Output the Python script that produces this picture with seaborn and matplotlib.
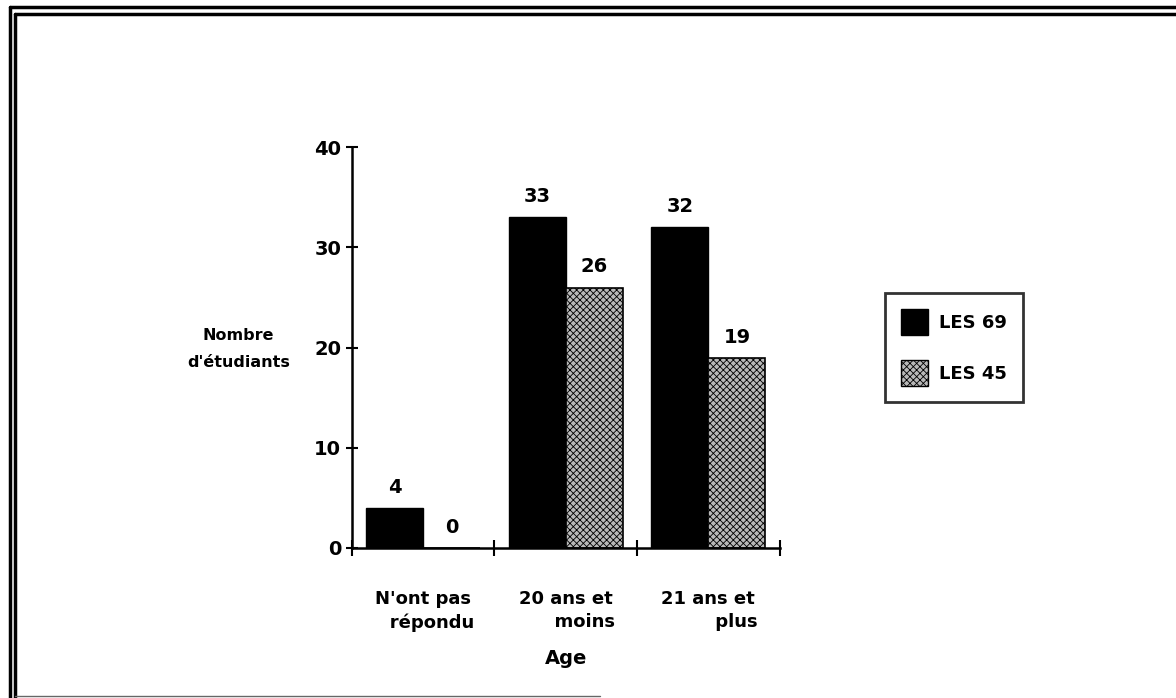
import matplotlib
matplotlib.use("Agg")
import matplotlib.pyplot as plt
from matplotlib.lines import Line2D
from matplotlib.patches import Patch
import seaborn as sns
import pandas as pd

categories = ["N'ont pas\n   répondu", "20 ans et\n      moins", "21 ans et\n         plus"]
series = ["LES 69", "LES 45"]
les69 = [4, 33, 32]
les45 = [0, 26, 19]
yticks = [0, 10, 20, 30, 40]

df = pd.DataFrame({
    "cat": categories * 2,
    "serie": [series[0]] * 3 + [series[1]] * 3,
    "val": les69 + les45,
})

sns.set_theme(style="white")
plt.rcParams['font.family'] = ['DejaVu Sans']
plt.rcParams['font.weight'] = 'bold'
plt.rcParams['hatch.linewidth'] = 0.6
for k in ['text.color', 'xtick.color', 'ytick.color', 'axes.labelcolor', 'axes.edgecolor']:
    plt.rcParams[k] = 'black'

fig = plt.figure(figsize=(11.76, 6.98), dpi=100)
ax = fig.add_axes([0.299, 0.215, 0.364, 0.574])

sns.barplot(data=df, x="cat", y="val", hue="serie", hue_order=series,
            palette={"LES 69": "black", "LES 45": "#b8b8b8"},
            width=0.8, saturation=1, ax=ax, legend=False)

for p in ax.containers[1]:
    p.set_hatch("xxxxx")
    p.set_edgecolor("black")
    p.set_linewidth(1.2)
for p in ax.containers[0]:
    p.set_edgecolor("black")

for cont in ax.containers:
    ax.bar_label(cont, labels=[str(int(v)) for v in cont.datavalues],
                 padding=8, fontsize=14, fontweight='bold', color='black')

ax.set_ylim(0, 40)
ax.set_xlim(-0.5, 2.5)
ax.set_yticks(yticks)
ax.set_yticklabels([str(t) for t in yticks], fontsize=14, fontweight='bold')
ax.set_xticks([-0.5, 0.5, 1.5, 2.5], minor=False)
ax.set_xticklabels([])
ax.set_xticks([0, 1, 2], minor=True)
ax.set_xticklabels(categories, minor=True, fontsize=13, fontweight='bold', ha='center',
                   linespacing=1.4)
ax.tick_params(bottom=True, left=True)
ax.tick_params(axis='x', which='minor', length=0, pad=30)
ax.tick_params(axis='x', which='major', direction='inout', length=12, width=1.5, color='black')
ax.tick_params(axis='y', direction='inout', length=9, width=1.5, color='black', pad=3)

for s in ["top", "right"]:
    ax.spines[s].set_visible(False)
for s in ["left", "bottom"]:
    ax.spines[s].set_color("black")
    ax.spines[s].set_linewidth(1.8)

ax.set_xlabel("Age", fontsize=14, fontweight='bold', labelpad=12)
ax.set_ylabel("")
fig.text(0.203, 0.50, "Nombre\nd'étudiants", ha='center', va='center',
         fontsize=11.5, fontweight='bold', linespacing=2.0)

handles = [Patch(facecolor="black", edgecolor="black"),
           Patch(facecolor="#b8b8b8", edgecolor="black", hatch="xxxxx")]
leg = fig.legend(handles, series, loc='upper left', bbox_to_anchor=(0.7526, 0.58),
                 frameon=True, fancybox=False, prop={'weight': 'bold', 'size': 13},
                 handlelength=1.5, handleheight=1.8, borderpad=0.9, labelspacing=1.4,
                 handletextpad=0.6, borderaxespad=0)
leg.get_frame().set_edgecolor("black")
leg.get_frame().set_linewidth(2)

# page border decorations
W, H = 1176, 698
def fl(x0, y0, x1, y1, lw=2.5, c='black'):
    fig.add_artist(Line2D([x0 / W, x1 / W], [1 - y0 / H, 1 - y1 / H], color=c, lw=lw,
                          transform=fig.transFigure))
fl(10, 7, W, 7)
fl(15, 14, W, 14)
fl(10, 7, 10, H)
fl(15, 14, 15, H)
fl(15, 696, 600, 696, lw=1, c='#666666')

fig.savefig("out.png", dpi=100, facecolor="white")
